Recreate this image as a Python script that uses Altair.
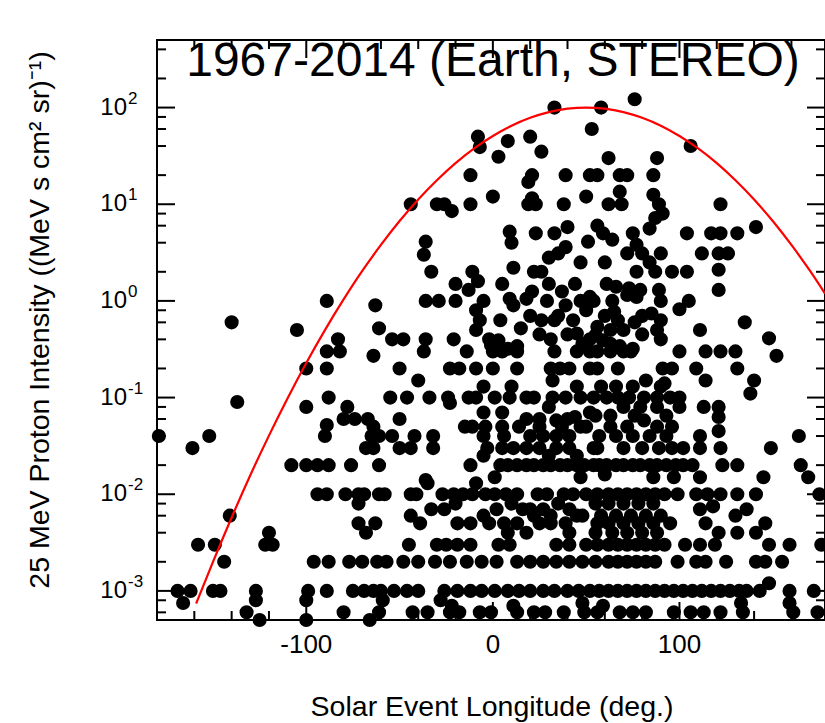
import altair as alt
import pandas as pd

FONT = "Liberation Sans"
TITLE = "1967-2014 (Earth, STEREO)"
X_TITLE = "Solar Event Longitude (deg.)"
Y_TITLE = "25 MeV Proton Intensity ((MeV s cm\u00b2 sr)\u207b\u00b9)"

# ---- event points, grouped by intensity decade: (intensity, [longitudes]) ----
PTS_100 = [(100, [33, 58]), (122, [76])]

PTS_10 = [
    (60, [53]), (50, [-8, 20]), (45, [8]), (40, [106]), (39, [-7]), (35, [26]),
    (31, [3]), (30, [62, 88]), (20, [-12, 21, 39, 52, 56, 68, 72, 86]), (17, [19]),
    (13.5, [68]), (12.5, [86]), (12, [0, 50]), (11.5, [21]),
    (10, [-44, -30, -26, -12, 19, 23, 38, 62, 69, 89, 122]),
]

PTS_1 = [
    (8.5, [-22]), (8, [91]), (7.2, [87]), (6, [56]), (5.8, [40, 141]), (5.6, [84]),
    (5.2, [9]), (5, [23, 33, 59, 75, 104, 117, 122, 131]), (4.3, [64]), (4.1, [-36, 51]),
    (4, [10]), (3.8, [77]), (3.6, [39]), (3.1, [35, 72, 80, 90, 112, 121, 126]),
    (3, [-37]), (2.8, [30]), (2.5, [47, 60, 84]), (2.2, [11]), (2.1, [121]),
    (2, [-33, -11, 22, 26, 77, 87, 96, 104]), (1.6, [-8]), (1.5, [-20, 5, 30, 44, 61]),
    (1.4, [66]), (1.35, [73]), (1.3, [-13, 79, 89, 121]), (1.25, [21, 37]), (1.15, [72]),
    (1.1, [52, 77]), (1.05, [9, 18]),
    (1, [-89, -36, -29, -20, -5, 29, 47, 54, 64, 90, 105]),
]

PTS_01 = [
    (0.9, [-63, 11, 39]), (0.82, [100]), (0.8, [-9, 50]), (0.77, [65]), (0.74, [85]),
    (0.7, [20, 35, 60, 80]), (0.63, [-7, 4, 26, 33, 43, 67, 90]), (0.6, [-140, 76, 135]),
    (0.54, [56]), (0.52, [-61, 15]), (0.5, [-105, -9, 63, 70, 88, 111]), (0.46, [45]),
    (0.45, [25, 40, 80]), (0.44, [55]), (0.41, [148]),
    (0.4, [-83, -54, -48, -36, -21, -2, 31, 52, 90]), (0.39, [3, 59]), (0.36, [48, 63]),
    (0.35, [-1]), (0.34, [13, 68]), (0.32, [8, 75]),
    (0.3, [-89, -82, -37, -14, 0, 5, 13, 33, 45, 52, 56, 63, 70, 74, 100, 114, 122, 130]),
    (0.27, [-64, 152]),
    (0.2, [-100, -89, -50, -23, -18, -9, 0, 13, 31, 36, 41, 52, 56, 67, 91, 96, 109, 131]),
    (0.15, [-40, 32, 82, 114, 140]), (0.14, [92]), (0.13, [-5, 10, 45, 58, 66, 75, 90]),
    (0.11, [138]),
]

PTS_001 = [
    (0.1, [-88, -55, -46, -34, -24, -13, -9, 1, 9, 18, 22, 32, 39, 47, 54, 61, 67, 73, 81, 88, 95, 100]),
    (0.09, [-137]), (0.088, [-23]), (0.08, [-100, -78, 30, 70, 79, 88, 100, 113, 121]),
    (0.07, [-5, 5, 52]), (0.065, [55, 63, 76, 93]), (0.063, [44, 121]),
    (0.06, [-80, -74, -67, -50, 18, 25, 40]), (0.058, [34, 81]), (0.052, [-89]),
    (0.05, [-64, -15, -11, -4, 5, 14, 25, 37, 47, 50, 63, 72, 88, 96]), (0.045, [121]),
    (0.04, [-179, -152, -90, -65, -61, -54, -42, -32, -5, 6, 20, 27, 34, 41, 57, 66, 75, 84, 93, 111, 164]),
    (0.03, [-161, -68, -64, -50, -44, -32, -3, 5, 11, 18, 25, 34, 41, 54, 56, 70, 80, 89, 96, 102, 111, 122, 149]),
    (0.025, [-5, 30, 45]),
    (0.02, [-108, -100, -94, -88, -76, -61, -12, 4, 8, 13, 18, 22, 27, 31, 36, 40, 45, 49, 54, 57, 61,
            66, 70, 75, 79, 84, 88, 93, 98, 102, 107, 123, 131, 165]),
    (0.016, [60]), (0.015, [1, 47, 86, 97, 111, 145, 169]), (0.014, [-36]), (0.013, [-35, -9]),
    (0.01, [-94, -89, -79, -72, -69, -61, -58, -44, -41, -27, -21, -16, -11, -4, 1, 7, 13, 24, 29, 38,
            43, 50, 56, 62, 67, 72, 77, 82, 87, 92, 99, 109, 115, 122, 131, 141, 175]),
]

PTS_0001 = [
    (0.008, [-72, -20, 10, 35, 55, 62, 70, 78, 86]), (0.0075, [118]),
    (0.007, [-33, -26, 2, 16, 20, 27, 41, 111, 136]),
    (0.006, [-141, -44, -5, 22, 31, 45, 48, 58, 66, 74, 82, 90, 130]),
    (0.005, [-72, -63, -39, -19, -12, -2, 6, 13, 25, 31, 39, 56, 62, 70, 78, 86, 95, 114, 146]),
    (0.004, [-120, -68, 8, 18, 41, 55, 64, 72, 80, 88, 121, 131, 141]),
    (0.003, [-158, -149, -122, -118, -45, -30, -25, -19, -12, 3, 9, 34, 41, 50, 56, 62, 67, 72, 77,
             82, 87, 92, 103, 111, 119, 148, 159, 176]),
    (0.002, [-144, -96, -88, -77, -70, -62, -57, -48, -40, -31, -23, -14, -6, 2, 13, 20, 27, 34, 41,
             48, 55, 62, 67, 72, 77, 82, 87, 99, 109, 114, 125, 141, 146, 155]),
    (0.0012, [148]),
    (0.001, [-169, -162, -150, -146, -127, -99, -89, -75, -69, -64, -60, -53, -46, -40, -26, -19, -12,
             -6, 1, 8, 14, 20, 27, 33, 40, 46, 52, 57, 62, 67, 72, 77, 82, 87, 92, 97, 102, 107, 112,
             117, 122, 127, 132, 136, 143, 159, 172]),
]

PTS_LOW = [
    (0.0008, [-127, -100, -59, -28]), (0.00075, [-166, 48, 133, 159]), (0.0007, [-22, 11, 59]),
    (0.0006, [-132, -80, -61, -43, -35, -23, -18, -7, -1, 13, 22, 28, 38, 49, 56, 68, 75, 82, 97,
              106, 113, 122, 134, 161, 174]),
    (0.0005, [-125, -100, -66]),
]

# ---- red envelope curve ----
CURVE_LON = [-159, -150, -140, -130, -120, -110, -100, -90, -80, -70, -60, -50, -40, -30, -20, -10,
             0, 10, 20, 30, 40, 50, 60, 70, 80, 90, 100, 110, 120, 130, 140, 150, 160, 170, 178]
CURVE_I = [7.4e-4, 2.0e-3, 5.75e-3, 0.0157, 0.0404, 0.0986, 0.228, 0.499, 1.035, 2.04, 3.79, 6.70,
           11.2, 17.7, 26.6, 37.8, 50.8, 64.9, 78.3, 89.7, 97.3, 100, 97.3, 89.7, 78.3, 64.9, 50.8,
           37.8, 26.6, 17.7, 11.2, 6.70, 3.79, 2.04, 1.19]

# ---- axis ticks / labels ----
X_MAJOR = [-100, 0, 100]
X_LABELS = ["-100", "0", "100"]
X_MINOR = [-160, -140, -120, -80, -60, -40, -20, 20, 40, 60, 80, 120, 140, 160]
Y_MAJOR = [0.001, 0.01, 0.1, 1, 10, 100]
Y_EXP = ["-3", "-2", "-1", "0", "1", "2"]
Y_MINOR = [6e-4, 8e-4, 2e-3, 4e-3, 6e-3, 8e-3, 0.02, 0.04, 0.06, 0.08, 0.2, 0.4, 0.6, 0.8,
           2, 4, 6, 8, 20, 40, 60, 80, 200, 400]

W, H = 668, 580
MAJ, MIN = 18, 9

rows = []
for group in (PTS_100, PTS_10, PTS_1, PTS_01, PTS_001, PTS_0001, PTS_LOW):
    for inten, lons in group:
        for lon in lons:
            rows.append({"lon": lon, "I": inten})
pts = pd.DataFrame(rows)
curve = pd.DataFrame({"lon": CURVE_LON, "I": CURVE_I})

xs = alt.Scale(domain=[-180, 178], nice=False, zero=False)
ys = alt.Scale(type="log", domain=[5e-4, 500], nice=False)

points = alt.Chart(pts).mark_circle(size=200, color="black", opacity=1).encode(
    x=alt.X("lon:Q", scale=xs, axis=None),
    y=alt.Y("I:Q", scale=ys, axis=None),
)

line = alt.Chart(curve).mark_line(color="#ff0000", strokeWidth=2.2, interpolate="monotone").encode(
    x=alt.X("lon:Q", scale=xs, axis=None),
    y=alt.Y("I:Q", scale=ys, axis=None),
)


def xticks(vals, y0, y1):
    return alt.Chart(pd.DataFrame({"v": vals})).mark_rule(color="black", strokeWidth=2).encode(
        x=alt.X("v:Q", scale=xs, axis=None), y=alt.value(y0), y2=alt.value(y1))


def yticks(vals, x0, x1):
    return alt.Chart(pd.DataFrame({"v": vals})).mark_rule(color="black", strokeWidth=2).encode(
        y=alt.Y("v:Q", scale=ys, axis=None), x=alt.value(x0), x2=alt.value(x1))


ticks = [
    xticks(X_MAJOR, H, H - MAJ), xticks(X_MINOR, H, H - MIN),
    xticks(X_MAJOR, 0, MAJ), xticks(X_MINOR, 0, MIN),
    yticks(Y_MAJOR, 0, MAJ), yticks(Y_MINOR, 0, MIN),
    yticks(Y_MAJOR, W, W - MAJ), yticks(Y_MINOR, W, W - MIN),
]

xlab = alt.Chart(pd.DataFrame({"v": X_MAJOR, "t": X_LABELS})).mark_text(
    align="center", baseline="middle", fontSize=26, font=FONT, color="black").encode(
    x=alt.X("v:Q", scale=xs, axis=None), y=alt.value(H + 25), text="t:N")

ylab = alt.Chart(pd.DataFrame({"v": Y_MAJOR, "t": ["10"] * len(Y_MAJOR)})).mark_text(
    align="right", baseline="middle", fontSize=24, font=FONT, color="black").encode(
    y=alt.Y("v:Q", scale=ys, axis=None), x=alt.value(-30), text="t:N")

exps = alt.Chart(pd.DataFrame({"v": Y_MAJOR, "e": Y_EXP})).mark_text(
    align="left", baseline="middle", fontSize=17, dy=-9, font=FONT, color="black").encode(
    y=alt.Y("v:Q", scale=ys, axis=None), x=alt.value(-29), text="e:N")

title = alt.Chart(pd.DataFrame({"t": [TITLE]})).mark_text(
    align="center", baseline="middle", fontSize=48, font=FONT, color="black").encode(
    x=alt.value(336), y=alt.value(22), text="t:N")

xtitle = alt.Chart(pd.DataFrame({"t": [X_TITLE]})).mark_text(
    align="center", baseline="middle", fontSize=28.5, font=FONT, color="black").encode(
    x=alt.value(335), y=alt.value(H + 87), text="t:N")

ytitle = alt.Chart(pd.DataFrame({"t": [Y_TITLE]})).mark_text(
    align="center", baseline="middle", fontSize=28.5, font=FONT, color="black", angle=270).encode(
    x=alt.value(-117), y=alt.value(280), text="t:N")

chart = alt.layer(*ticks, points, line, xlab, ylab, exps, title, xtitle, ytitle).properties(
    width=W, height=H,
    padding={"left": 157, "top": 40, "right": 0, "bottom": 103},
    autosize=alt.AutoSizeParams(type="none"),
    background="white",
).configure_view(stroke="black", strokeWidth=2)

chart.save("out.html", embed_options={"renderer": "svg", "actions": False})
